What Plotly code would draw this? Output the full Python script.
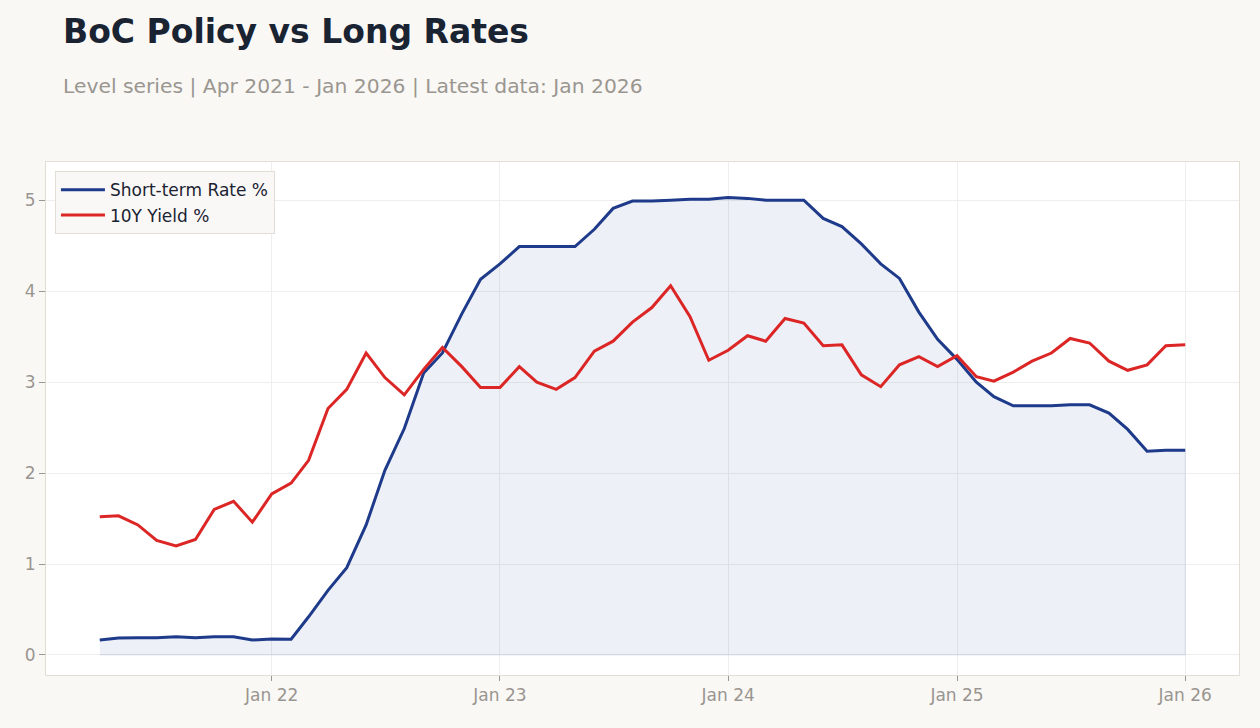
import plotly.graph_objects as go
import pandas as pd

dates = pd.date_range("2021-04-01", "2026-01-01", freq="MS")

short_rate = [0.165, 0.187, 0.19, 0.19, 0.20, 0.19, 0.20, 0.20, 0.165, 0.176,
              0.173, 0.42, 0.71, 0.96, 1.43, 2.03, 2.49, 3.10, 3.32, 3.75,
              4.13, 4.30, 4.49, 4.49, 4.49, 4.49, 4.68, 4.91, 4.99, 4.99,
              5.00, 5.01, 5.01, 5.03, 5.02, 5.00, 5.00, 5.00, 4.80, 4.71,
              4.52, 4.30, 4.14, 3.77, 3.47, 3.25, 3.00, 2.84, 2.74, 2.74,
              2.74, 2.75, 2.75, 2.66, 2.48, 2.24, 2.25, 2.25]

yield_10y = [1.52, 1.53, 1.43, 1.26, 1.20, 1.27, 1.60, 1.69, 1.46, 1.77,
             1.89, 2.14, 2.71, 2.92, 3.32, 3.05, 2.86, 3.14, 3.38, 3.17,
             2.94, 2.94, 3.17, 3.00, 2.92, 3.05, 3.34, 3.45, 3.66, 3.82,
             4.06, 3.72, 3.24, 3.35, 3.51, 3.45, 3.70, 3.65, 3.40, 3.41,
             3.08, 2.95, 3.19, 3.28, 3.17, 3.29, 3.06, 3.01, 3.11, 3.23,
             3.32, 3.48, 3.43, 3.23, 3.13, 3.19, 3.40, 3.41]

BLUE = "#1e3a8a"
RED = "#dc2626"

fig = go.Figure()

# shaded area under short-term rate
fill_x = list(dates) + [dates[-1], dates[0]]
fill_y = list(short_rate) + [0, 0]
fig.add_trace(go.Scatter(
    x=fill_x, y=fill_y, mode="lines", fill="toself",
    fillcolor="rgba(30,58,138,0.08)",
    line=dict(color="rgba(30,58,138,0.10)", width=1),
    showlegend=False, hoverinfo="skip"))

fig.add_trace(go.Scatter(
    x=dates, y=short_rate, mode="lines", name="Short-term Rate %",
    line=dict(color=BLUE, width=3)))
fig.add_trace(go.Scatter(
    x=dates, y=yield_10y, mode="lines", name="10Y Yield %",
    line=dict(color=RED, width=3)))

font_family = "DejaVu Sans, Verdana, sans-serif"

fig.update_layout(
    width=1260, height=728,
    paper_bgcolor="#f9f8f5",
    plot_bgcolor="#ffffff",
    margin=dict(l=46, r=21, t=162, b=53),
    font=dict(family=font_family, color="#999590", size=17),
    title=dict(
        text="<b>BoC Policy vs Long Rates</b>",
        xref="container", yref="container",
        x=0.05, y=1 - 31 / 728, xanchor="left", yanchor="middle",
        font=dict(size=33, color="#1a2332", family=font_family)),
    showlegend=True,
    legend=dict(
        x=0.0075, y=0.982, xanchor="left", yanchor="top",
        bgcolor="rgba(250,248,245,0.95)", bordercolor="#e2ddd5", borderwidth=1,
        itemwidth=44,
        font=dict(size=17, color="#1a2332")),
    annotations=[dict(
        text="Level series | Apr 2021 - Jan 2026 | Latest data: Jan 2026",
        xref="paper", yref="paper", x=(61 - 46) / 1193, y=(675 - 86) / 513,
        xanchor="left", yanchor="middle", showarrow=False,
        font=dict(size=20.3, color="#9a9690"))],
)

fig.update_xaxes(
    type="date",
    range=["2021-01-05", "2026-03-28"],
    tickformat="%b %y",
    dtick="M12",
    tick0="2022-01-01",
    ticks="outside", ticklen=5, tickcolor="#999590",
    showgrid=True, gridcolor="#eeeeee", gridwidth=1,
    showline=True, linecolor="#e2ddd5", linewidth=1, mirror=True,
    zeroline=False,
    tickfont=dict(size=17, color="#999590"))

fig.update_yaxes(
    range=[-0.22, 5.42],
    dtick=1, tick0=0,
    ticks="outside", ticklen=6, tickcolor="#999590",
    showgrid=True, gridcolor="#eeeeee", gridwidth=1,
    showline=True, linecolor="#e2ddd5", linewidth=1, mirror=True,
    zeroline=False,
    tickfont=dict(size=17, color="#999590"))

fig.write_html("out.html")
